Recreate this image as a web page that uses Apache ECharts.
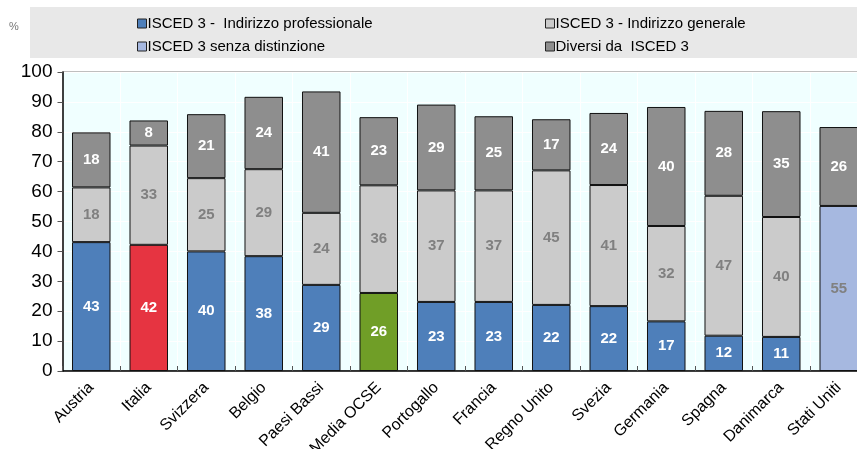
<!DOCTYPE html>
<html><head><meta charset="utf-8">
<script src="https://cdn.jsdelivr.net/npm/echarts@6/dist/echarts.min.js"></script>
<style>html,body{margin:0;padding:0;background:#fff}#c{width:857px;height:449px}</style>
</head><body><div id="c"></div>
<script>
var categories = ['Austria','Italia','Svizzera','Belgio','Paesi Bassi','Media OCSE','Portogallo','Francia','Regno Unito','Svezia','Germania','Spagna','Danimarca','Stati Uniti'];
var professionale = [43.1, 42.2, 40.0, 38.4, 28.8, 26.1, 23.1, 23.1, 22.1, 21.7, 16.6, 11.8, 11.4, null];
var senzaDistinzione = [null, null, null, null, null, null, null, null, null, null, null, null, null, 55.2];
var generale = [18.3, 33.2, 24.5, 29.1, 24.1, 36.0, 37.3, 37.3, 45.0, 40.5, 31.9, 46.8, 40.1, null];
var diversi = [18.4, 8.4, 21.4, 24.2, 40.6, 22.8, 28.7, 24.8, 17.1, 24.1, 39.8, 28.4, 35.4, 26.4];
var yTicks = [0, 10, 20, 30, 40, 50, 60, 70, 80, 90, 100];
var seriesNames = ['ISCED 3 -  Indirizzo professionale', 'ISCED 3 - Indirizzo generale', 'ISCED 3 senza distinzione', 'Diversi da  ISCED 3'];

var FONT = 'Liberation Sans, Arial, sans-serif';
var colBlue = '#4e7fba', colRed = '#e63441', colGreen = '#709e27', colLight = '#cbcbcb', colDark = '#8e8e8e', colLav = '#a6b8e0';

function lbl(color) {
  return { show: true, position: 'inside', color: color, fontFamily: FONT, fontWeight: 'bold', fontSize: 15,
    formatter: function (p) { return p.value == null ? '' : String(Math.round(p.value)); } };
}
var profData = professionale.map(function (v, i) {
  if (categories[i] === 'Italia') return { value: v, itemStyle: { color: colRed } };
  if (categories[i] === 'Media OCSE') return { value: v, itemStyle: { color: colGreen } };
  return v;
});
var bs = { borderColor: '#111', borderWidth: 1 };
var chart = echarts.init(document.getElementById('c'), null, { renderer: 'canvas' });
chart.setOption({
  animation: false,
  backgroundColor: '#ffffff',
  textStyle: { fontFamily: FONT },
  graphic: [
    { type: 'rect', shape: { x: 30, y: 7, width: 830, height: 51 }, style: { fill: '#e8e8e8' }, z: -10 },
    { type: 'text', left: 9, top: 21, style: { text: '%', fill: '#777', font: '11px ' + FONT } }
  ],
  legend: [
    { orient: 'vertical', left: 132, top: 11, itemGap: 8, itemWidth: 9, itemHeight: 9, icon: 'rect',
      textStyle: { fontFamily: FONT, fontSize: 15, color: '#000', padding: [0, 0, 0, -4] },
      itemStyle: { borderColor: '#222', borderWidth: 1 },
      data: [seriesNames[0], seriesNames[2]] },
    { orient: 'vertical', left: 540, top: 11, itemGap: 8, itemWidth: 9, itemHeight: 9, icon: 'rect',
      textStyle: { fontFamily: FONT, fontSize: 15, color: '#000', padding: [0, 0, 0, -4] },
      itemStyle: { borderColor: '#222', borderWidth: 1 },
      data: [seriesNames[1], seriesNames[3]] }
  ],
  grid: { left: 62.5, top: 72, width: 805, height: 299, outerBoundsMode: 'none', containLabel: false,
    show: true, backgroundColor: '#f0ffff', borderColor: '#7f7f7f', borderWidth: 1 },
  xAxis: {
    type: 'category', data: categories,
    axisLine: { lineStyle: { color: '#000', width: 1.5 } },
    axisTick: { show: true, inside: true, length: 5, lineStyle: { color: '#555' } },
    splitLine: { show: true, lineStyle: { color: '#ffffff', width: 1 } },
    axisLabel: { rotate: 45, fontSize: 16, color: '#000', fontFamily: FONT, margin: 14, interval: 0 }
  },
  yAxis: {
    type: 'value', min: 0, max: 100, interval: 10,
    axisLine: { show: true, lineStyle: { color: '#000', width: 1.5 } },
    axisTick: { show: true, length: 5, lineStyle: { color: '#555' } },
    splitLine: { show: true, lineStyle: { color: '#ffffff', width: 1 } },
    axisLabel: { fontSize: 19, color: '#000', fontFamily: FONT, margin: 10,
      formatter: function (v) { return yTicks.indexOf(v) >= 0 ? String(v) : ''; } }
  },
  series: [
    { name: seriesNames[0], type: 'bar', stack: 's', data: profData, barWidth: '67%',
      itemStyle: Object.assign({ color: colBlue }, bs), label: lbl('#ffffff') },
    { name: seriesNames[2], type: 'bar', stack: 's', data: senzaDistinzione,
      itemStyle: Object.assign({ color: colLav }, bs), label: lbl('#808080') },
    { name: seriesNames[1], type: 'bar', stack: 's', data: generale,
      itemStyle: Object.assign({ color: colLight }, bs), label: lbl('#808080') },
    { name: seriesNames[3], type: 'bar', stack: 's', data: diversi,
      itemStyle: Object.assign({ color: colDark }, bs), label: lbl('#ffffff') }
  ]
});
</script></body></html>
